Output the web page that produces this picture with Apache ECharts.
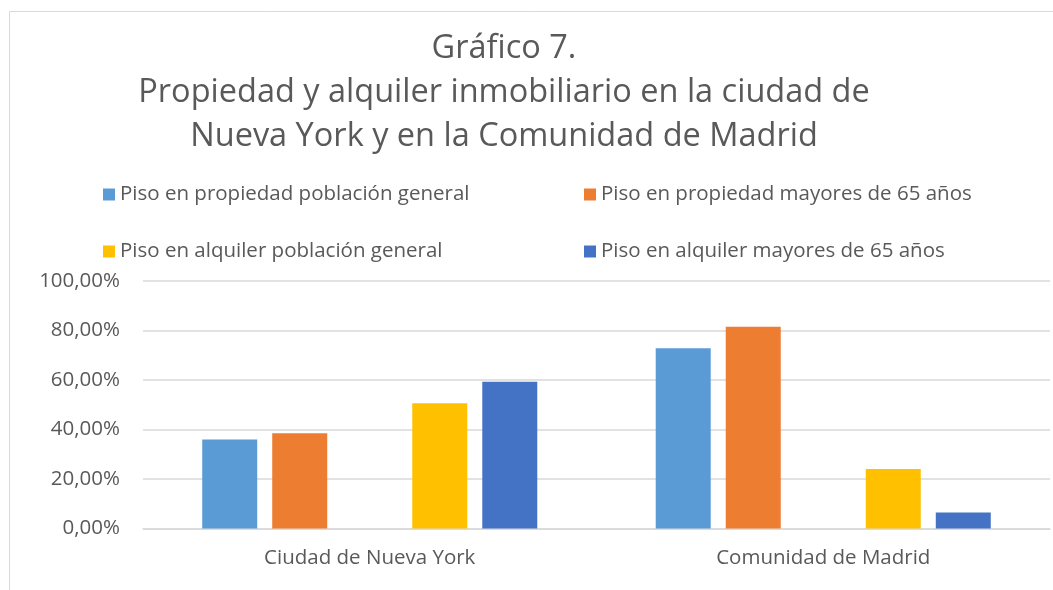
<!DOCTYPE html>
<html>
<head>
<meta charset="utf-8">
<script src="https://cdn.jsdelivr.net/npm/echarts@6/dist/echarts.min.js"></script>
<style>
html,body{margin:0;padding:0;background:#fff;}
#c{width:1053px;height:590px;}
</style>
</head>
<body>
<div id="c"></div>
<script>
const categories = ['Ciudad de Nueva York', 'Comunidad de Madrid'];
const seriesNames = [
  'Piso en propiedad población general',
  'Piso en propiedad mayores de 65 años',
  'Piso en alquiler población general',
  'Piso en alquiler mayores de 65 años'
];
const propiedadGeneral = [0.360, 0.728];
const propiedadMayores = [0.385, 0.815];
const alquilerGeneral = [0.506, 0.240];
const alquilerMayores = [0.593, 0.065];
const emptySlot = [null, null];

const colors = ['#5B9BD5', '#ED7D31', '#FFC000', '#4472C4'];
const font = 'Open Sans';
const textColor = '#595959';

const chart = echarts.init(document.getElementById('c'));

function legendAt(i, left, top) {
  return {
    data: [seriesNames[i]],
    left: left, top: top,
    icon: 'rect', itemWidth: 12, itemHeight: 12,
    selectedMode: false,
    textStyle: { color: textColor, fontSize: 20.5, fontFamily: font, padding: [0, 0, 0, 0] }
  };
}

function bar(name, data, color) {
  return {
    name: name, type: 'bar', data: data,
    barWidth: 55, barGap: '27.3%',
    itemStyle: { color: color },
    silent: true
  };
}

chart.setOption({
  animation: false,
  backgroundColor: '#fff',
  graphic: [{
    type: 'rect',
    shape: { x: 9.5, y: 11.5, width: 1100, height: 700 },
    style: { fill: 'none', stroke: '#d9d9d9', lineWidth: 1 },
    silent: true
  }],
  title: {
    text: 'Gráfico 7.\nPropiedad y alquiler inmobiliario en la ciudad de\nNueva York y en la Comunidad de Madrid',
    left: 499, top: 21.5, textAlign: 'center',
    textStyle: { color: textColor, fontSize: 32.5, fontWeight: 'normal', fontFamily: font, lineHeight: 44, align: 'center' }
  },
  legend: [
    legendAt(0, 98, 179),
    legendAt(1, 579, 179),
    legendAt(2, 98, 236),
    legendAt(3, 579, 236)
  ],
  grid: { left: 143, right: 3, top: 281, bottom: 61.5, containLabel: false },
  xAxis: {
    type: 'category', data: categories,
    axisLine: { show: true, lineStyle: { color: '#d9d9d9', width: 1.5 } },
    axisTick: { show: false },
    axisLabel: { color: textColor, fontSize: 20.5, fontFamily: font, margin: 19 }
  },
  yAxis: {
    type: 'value', min: 0, max: 1, interval: 0.2,
    axisLine: { show: false }, axisTick: { show: false },
    splitLine: { lineStyle: { color: '#d9d9d9', width: 1.5 } },
    axisLabel: {
      color: textColor, fontSize: 20.5, fontFamily: font, margin: 23,
      formatter: v => (v * 100).toFixed(2).replace('.', ',') + '%'
    }
  },
  series: [
    bar(seriesNames[0], propiedadGeneral, colors[0]),
    bar(seriesNames[1], propiedadMayores, colors[1]),
    bar('', emptySlot, '#ffffff'),
    bar(seriesNames[2], alquilerGeneral, colors[2]),
    bar(seriesNames[3], alquilerMayores, colors[3])
  ]
});
</script>
</body>
</html>
